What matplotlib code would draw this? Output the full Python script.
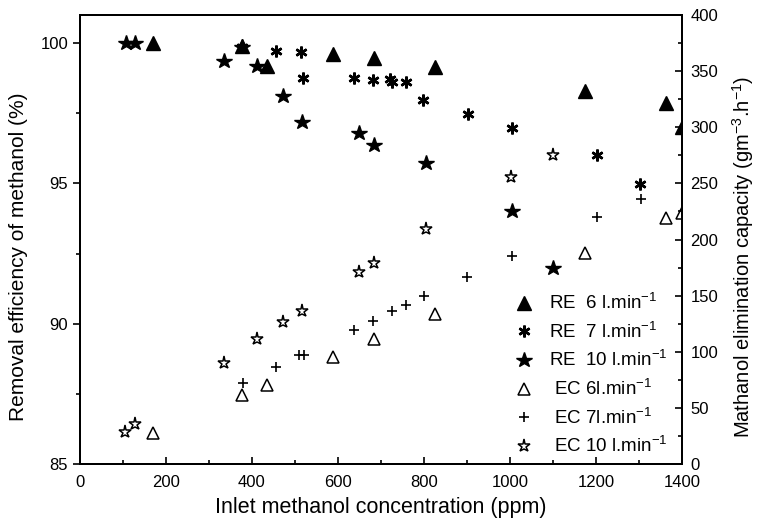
import matplotlib
matplotlib.use("Agg")
import matplotlib.pyplot as plt
from matplotlib.ticker import MultipleLocator

plt.rcParams['font.family'] = ['Liberation Sans', 'DejaVu Sans']
plt.rcParams['mathtext.fontset'] = 'custom'
plt.rcParams['mathtext.rm'] = 'Liberation Sans'

# RE (left axis, %)
re6_x = [170, 376, 434, 589, 684, 826, 1174, 1363, 1400]
re6_y = [100.0, 99.9, 99.19, 99.6, 99.45, 99.13, 98.3, 97.86, 97.0]
re7_x = [376, 456, 514, 519, 638, 682, 721, 725, 758, 797, 903, 1004, 1203, 1302]
re7_y = [99.85, 99.7, 99.67, 98.74, 98.77, 98.69, 98.71, 98.6, 98.6, 97.97, 97.46, 96.99, 96.01, 94.96]
re10_x = [106, 128, 336, 376, 411, 473, 517, 649, 684, 805, 1004, 1101]
re10_y = [100.0, 100.0, 99.37, 99.85, 99.19, 98.12, 97.19, 96.79, 96.36, 95.71, 94.01, 91.99]

# EC (right axis, g m-3 h-1)
ec6_x = [170, 376, 434, 589, 684, 826, 1174, 1363, 1400]
ec6_y = [27.9, 61.5, 70.4, 95.6, 111.4, 133.3, 187.7, 218.9, 223.3]
ec7_x = [380, 456, 510, 520, 638, 682, 725, 758, 800, 901, 1004, 1203, 1305]
ec7_y = [71.9, 86.7, 97.1, 97.1, 119.4, 127.4, 136.3, 141.6, 149.7, 166.9, 185.3, 219.8, 236.1]
ec10_x = [105, 128, 336, 411, 473, 517, 649, 684, 805, 1002, 1101]
ec10_y = [28.8, 35.3, 90.3, 111.4, 126.2, 136.6, 170.8, 179.3, 209.1, 256.0, 275.3]

labels = ["RE  6 l.min$^{-1}$", "RE  7 l.min$^{-1}$", "RE  10 l.min$^{-1}$",
          " EC 6l.min$^{-1}$", " EC 7l.min$^{-1}$", " EC 10 l.min$^{-1}$"]

fig = plt.figure(figsize=(7.57, 5.26), dpi=100)
ax = fig.add_axes([80/757, 62/526, 602/757, 449/526])
ax2 = ax.twinx()

k = 'black'
h1, = ax.plot(re6_x, re6_y, ls='none', marker='^', ms=10, color=k)
h2, = ax.plot(re7_x, re7_y, ls='none', marker=(6, 2, 0), ms=8.5, mew=1.8, color=k)
h3, = ax.plot(re10_x, re10_y, ls='none', marker='*', ms=11.5, color=k)
h4, = ax2.plot(ec6_x, ec6_y, ls='none', marker='^', ms=9, mfc='none', mec=k, mew=1.1)
h5, = ax2.plot(ec7_x, ec7_y, ls='none', marker='+', ms=7.5, mew=1.2, color=k)
h6, = ax2.plot(ec10_x, ec10_y, ls='none', marker='*', ms=9.5, mfc='none', mec=k, mew=1.1)

ax.set_xlim(0, 1400)
ax.set_ylim(85, 101)
ax2.set_ylim(0, 400)

ax.xaxis.set_major_locator(MultipleLocator(200))
ax.xaxis.set_minor_locator(MultipleLocator(100))
ax.yaxis.set_major_locator(MultipleLocator(5))
ax.yaxis.set_minor_locator(MultipleLocator(2.5))
ax2.yaxis.set_major_locator(MultipleLocator(50))
ax2.yaxis.set_minor_locator(MultipleLocator(25))

ax.tick_params(axis='x', which='both', direction='in', labelsize=12, pad=8)
ax.tick_params(axis='x', which='major', length=5, width=1.2)
ax.tick_params(axis='x', which='minor', length=3, width=1.2)
ax.tick_params(axis='y', which='both', direction='out', labelsize=12)
ax.tick_params(axis='y', which='major', length=5, width=1.2)
ax.tick_params(axis='y', which='minor', length=3, width=1.2)
ax2.tick_params(axis='y', which='both', direction='in', labelsize=12, pad=6)
ax2.tick_params(axis='y', which='major', length=5, width=1.2)
ax2.tick_params(axis='y', which='minor', length=3, width=1.2)

for a in (ax, ax2):
    for s in a.spines.values():
        s.set_linewidth(1.4)

ax.set_xlabel("Inlet methanol concentration (ppm)", fontsize=15.5, labelpad=5)
ax.set_ylabel("Removal efficiency of methanol (%)", fontsize=15)
ax2.set_ylabel("Mathanol elimination capacity (gm$^{-3}$.h$^{-1}$)", fontsize=14.5)
ax.yaxis.set_label_coords(-0.087, 0.461)
ax2.yaxis.set_label_coords(1.08, 0.461)

leg = ax2.legend([h1, h2, h3, h4, h5, h6], labels, loc='lower left',
                 bbox_to_anchor=(0.706, 0.0), frameon=False, fontsize=13.5,
                 handlelength=1.2, handletextpad=0.75, labelspacing=0.42,
                 borderaxespad=0.0)

fig.savefig("out.png", dpi=100)
